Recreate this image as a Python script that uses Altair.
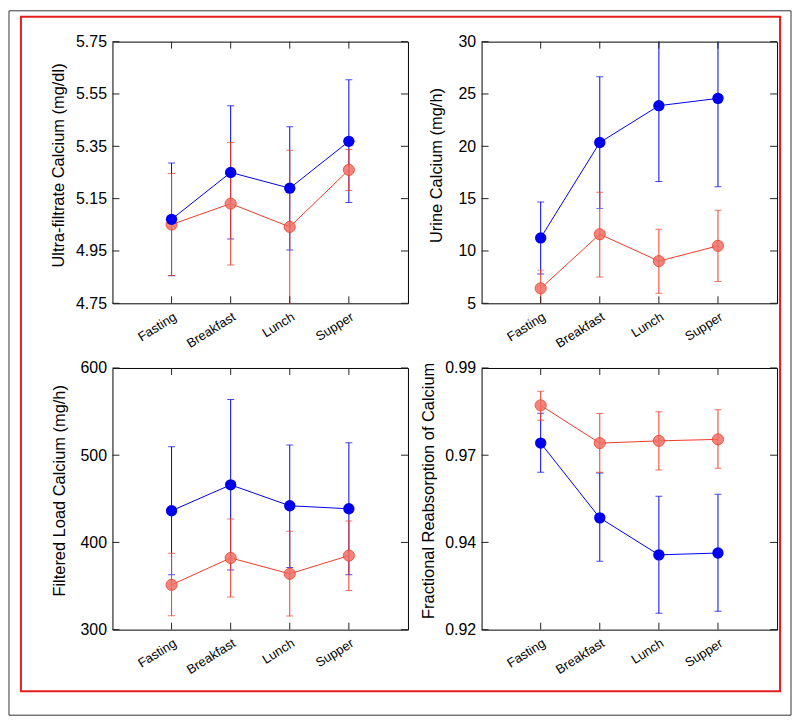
import altair as alt
import pandas as pd

# ---------------- data ----------------
meals = ["Fasting", "Breakfast", "Lunch", "Supper"]
meal_pos = [1, 2, 3, 4]

# Ultra-filtrate Calcium (mg/dl)
uf_blue = [5.071, 5.250, 5.190, 5.369]
uf_blue_lo = [4.855, 4.996, 4.954, 5.135]
uf_blue_hi = [5.286, 5.505, 5.425, 5.604]
uf_red = [5.051, 5.131, 5.042, 5.260]
uf_red_lo = [4.856, 4.896, 4.749, 5.181]
uf_red_hi = [5.246, 5.365, 5.335, 5.338]
uf_ticks = [4.75, 4.95, 5.15, 5.35, 5.55, 5.75]

# Urine Calcium (mg/h)
ur_blue = [11.25, 20.36, 23.88, 24.58]
ur_blue_lo = [7.79, 14.07, 16.64, 16.14]
ur_blue_hi = [14.68, 26.64, 31.1, 33.0]
ur_red = [6.43, 11.6, 9.03, 10.49]
ur_red_lo = [4.69, 7.51, 5.95, 7.09]
ur_red_hi = [8.17, 15.6, 12.07, 13.88]
ur_ticks = [5, 10, 15, 20, 25, 30]

# Filtered Load Calcium (mg/h)
fl_blue = [436.3, 466.0, 442.0, 438.6]
fl_blue_lo = [362.8, 368.5, 371.2, 362.8]
fl_blue_hi = [509.8, 563.8, 511.7, 514.3]
fl_red = [351.4, 382.2, 364.0, 384.9]
fl_red_lo = [316.0, 337.3, 315.6, 344.9]
fl_red_hi = [387.6, 426.8, 412.7, 424.5]
fl_ticks = [300, 400, 500, 600]

# Fractional Reabsorption of Calcium
fr_blue = [0.9699, 0.9499, 0.9400, 0.9405]
fr_blue_lo = [0.9621, 0.9383, 0.9244, 0.9249]
fr_blue_hi = [0.9779, 0.9619, 0.9557, 0.9562]
fr_red = [0.9800, 0.9699, 0.9705, 0.9709]
fr_red_lo = [0.9760, 0.9621, 0.9627, 0.9632]
fr_red_hi = [0.9838, 0.9778, 0.9783, 0.9788]
fr_ticks = [0.92, 0.9433333, 0.9666667, 0.99]

# ---------------- style ----------------
W, H = 297, 263
BLUE = "#0000ee"
RED_LINE = "#ee3b24"
RED_FILL = "#ef6f66"
FONT = "Liberation Sans"
TICK_LEN = 7

label_expr = "[" + ",".join("'%s'" % m for m in meals) + "][datum.value - 1]"


def panel(title, blue, blo, bhi, red, rlo, rhi, yticks, fmt, title_x, title_y, frame=False):
    df = pd.DataFrame({
        "x": meal_pos * 2,
        "group": ["blue"] * 4 + ["red"] * 4,
        "mean": blue + red,
        "lo": blo + rlo,
        "hi": bhi + rhi,
    })
    xs = alt.Scale(domain=[0, 5], nice=False, zero=False)
    ys = alt.Scale(domain=[yticks[0], yticks[-1]], nice=False, zero=False)
    xaxis = alt.Axis(values=meal_pos, labelExpr=label_expr, labelAngle=-32,
                     title=None, ticks=False, tickSize=0, domain=False, grid=False,
                     labelPadding=7, labelFontSize=13, labelFont=FONT,
                     labelColor="black")
    yaxis = alt.Axis(values=yticks, format=fmt, title=title, ticks=False, tickSize=0,
                     domain=False, grid=False, labelPadding=6, labelFontSize=16,
                     labelFont=FONT, labelColor="black", titleFont=FONT,
                     titleFontSize=16.5, titleFontWeight="normal", titleColor="black",
                     titleX=title_x, titleY=title_y, titleBaseline="middle")

    X = lambda f: alt.X(f, scale=xs, axis=xaxis)
    Y = lambda f: alt.Y(f, scale=ys, axis=yaxis)

    base = alt.Chart(df)
    layers = []

    if frame:
        fdf = pd.DataFrame({"a": [0]})
        layers.append(alt.Chart(fdf).mark_rect(fillOpacity=0, stroke="#333333", strokeWidth=1).encode(
            x=alt.value(-104), x2=alt.value(682), y=alt.value(-31), y2=alt.value(677)))
        layers.append(alt.Chart(fdf).mark_rect(fillOpacity=0, stroke="#e41e1e", strokeWidth=2).encode(
            x=alt.value(-92), x2=alt.value(671), y=alt.value(-25), y2=alt.value(653)))

    for g, color in [("blue", BLUE), ("red", RED_LINE)]:
        d = base.transform_filter(alt.datum.group == g)
        layers.append(d.mark_rule(color=color, strokeWidth=1, clip=True).encode(
            x=X("x:Q"), y=Y("lo:Q"), y2="hi:Q"))
        layers.append(d.mark_tick(orient="horizontal", color=color, size=7, thickness=1, clip=True).encode(
            x=X("x:Q"), y=Y("lo:Q")))
        layers.append(d.mark_tick(orient="horizontal", color=color, size=7, thickness=1, clip=True).encode(
            x=X("x:Q"), y=Y("hi:Q")))
        layers.append(d.mark_line(color=color, strokeWidth=1).encode(
            x=X("x:Q"), y=Y("mean:Q")))

    red_d = base.transform_filter(alt.datum.group == "red")
    blue_d = base.transform_filter(alt.datum.group == "blue")
    layers.append(red_d.mark_circle(size=125, color=RED_FILL, opacity=0.85,
                                    stroke=RED_LINE, strokeWidth=1).encode(
        x=X("x:Q"), y=Y("mean:Q")))
    layers.append(blue_d.mark_circle(size=130, color=BLUE, opacity=1).encode(
        x=X("x:Q"), y=Y("mean:Q")))

    # inner tick marks on all four sides
    xt = alt.Chart(pd.DataFrame({"t": meal_pos}))
    yt = alt.Chart(pd.DataFrame({"t": yticks}))
    tick_color = "#222222"
    layers.append(xt.mark_rule(color=tick_color, strokeWidth=1).encode(
        x=X("t:Q"), y=alt.value(H), y2=alt.value(H - TICK_LEN)))
    layers.append(xt.mark_rule(color=tick_color, strokeWidth=1).encode(
        x=X("t:Q"), y=alt.value(0), y2=alt.value(TICK_LEN)))
    layers.append(yt.mark_rule(color=tick_color, strokeWidth=1).encode(
        y=Y("t:Q"), x=alt.value(0), x2=alt.value(TICK_LEN)))
    layers.append(yt.mark_rule(color=tick_color, strokeWidth=1).encode(
        y=Y("t:Q"), x=alt.value(W - TICK_LEN), x2=alt.value(W)))

    return alt.layer(*layers).properties(width=W, height=H)


tl = panel("Ultra-filtrate Calcium (mg/dl)", uf_blue, uf_blue_lo, uf_blue_hi,
           uf_red, uf_red_lo, uf_red_hi, uf_ticks, ".2f", -54, 124, frame=True)
tr = panel("Urine Calcium (mg/h)", ur_blue, ur_blue_lo, ur_blue_hi,
           ur_red, ur_red_lo, ur_red_hi, ur_ticks, "d", -45, 124)
bl = panel("Filtered Load Calcium (mg/h)", fl_blue, fl_blue_lo, fl_blue_hi,
           fl_red, fl_red_lo, fl_red_hi, fl_ticks, "d", -53, 123)
br = panel("Fractional Reabsorption of Calcium", fr_blue, fr_blue_lo, fr_blue_hi,
           fr_red, fr_red_lo, fr_red_hi, fr_ticks, ".2f", -53, 123)

chart = alt.concat(tl, tr, bl, br, columns=2,
                   spacing={"row": 65, "column": 74},
                   bounds="flush").properties(
    padding=0, background="white"
).configure_view(stroke="black", strokeWidth=1)

chart.save("out.html", embed_options={"renderer": "svg", "actions": False})
